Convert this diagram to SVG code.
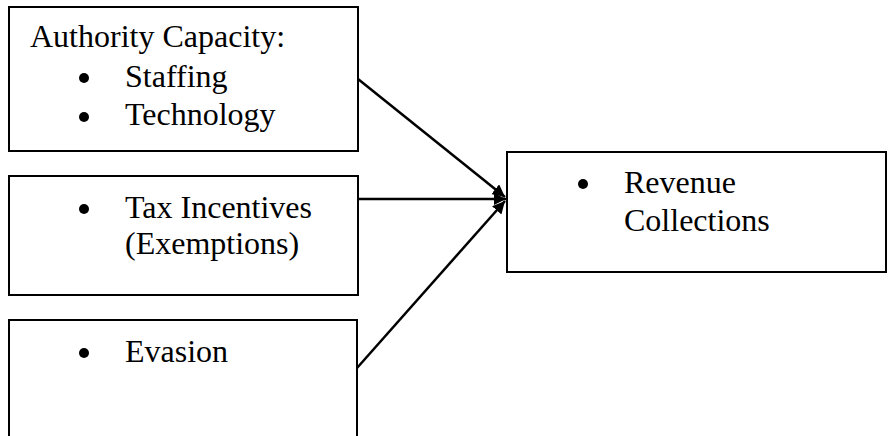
<svg xmlns="http://www.w3.org/2000/svg" width="888" height="436" viewBox="0 0 888 436">
<style>
.box{fill:#fff;stroke:#000;stroke-width:2}
.t{font-family:"Liberation Serif","Times New Roman",serif;font-size:32px;fill:#000}
.ln{stroke:#000;stroke-width:2.5;fill:none}
</style>
<defs>
<marker id="ah" viewBox="0 0 10 10" refX="10" refY="5" markerWidth="5" markerHeight="5" markerUnits="strokeWidth" orient="auto">
<path d="M0,0 L10,5 L0,10 z" fill="#000"/>
</marker>
</defs>
<rect width="888" height="436" fill="#fff"/>
<g id="node-authority">
<rect class="box" x="9" y="7" width="349" height="144"/>
<text class="t" x="30" y="47">Authority Capacity:</text>
<circle cx="84" cy="78" r="5"/>
<text class="t" x="125" y="87">Staffing</text>
<circle cx="84" cy="117" r="5"/>
<text class="t" x="125" y="125">Technology</text>
</g>
<g id="node-tax">
<rect class="box" x="9" y="176" width="349" height="119"/>
<circle cx="84" cy="209" r="5"/>
<text class="t" x="125" y="218">Tax Incentives</text>
<text class="t" x="125" y="254">(Exemptions)</text>
</g>
<g id="node-evasion">
<rect class="box" x="9" y="320" width="348" height="130"/>
<circle cx="84" cy="353" r="5"/>
<text class="t" x="125" y="362">Evasion</text>
</g>
<g id="node-revenue">
<rect class="box" x="507" y="152" width="379" height="120"/>
<circle cx="583" cy="184" r="5"/>
<text class="t" x="624" y="193">Revenue</text>
<text class="t" x="624" y="231">Collections</text>
</g>
<g id="connectors">
<line class="ln" x1="358" y1="79" x2="505" y2="197" marker-end="url(#ah)"/>
<line class="ln" x1="358" y1="199" x2="506" y2="199" marker-end="url(#ah)"/>
<line class="ln" x1="357" y1="368" x2="505" y2="201" marker-end="url(#ah)"/>
</g>
</svg>
